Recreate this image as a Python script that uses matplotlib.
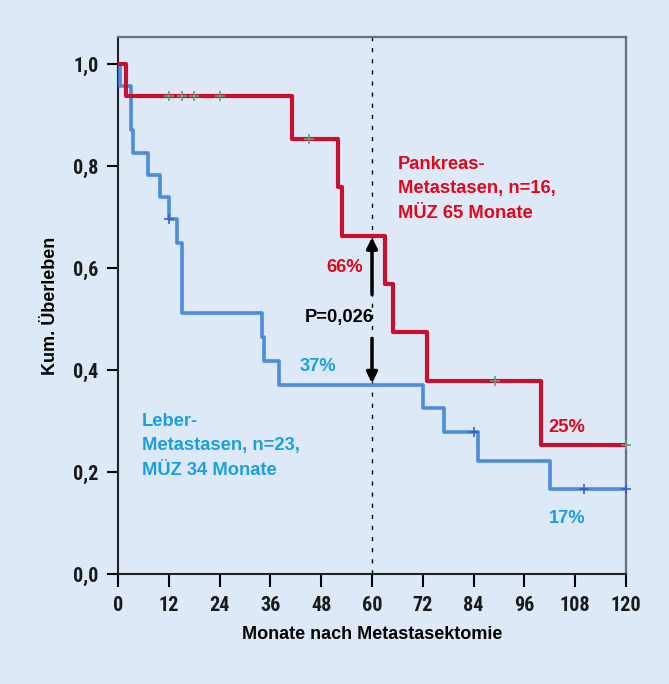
import matplotlib
matplotlib.use("Agg")
from matplotlib import pyplot as plt
from matplotlib import font_manager

# Pankreas-Metastasen (n=16)
pank_t = [0, 2, 41, 52, 53, 63, 65, 73, 100, 120]
pank_s = [1.0, 0.9375, 0.852, 0.758, 0.663, 0.568, 0.474, 0.379, 0.253, 0.253]
pank_cens_t = [12, 15, 18, 24, 45, 89, 120]
pank_cens_s = [0.9375, 0.9375, 0.9375, 0.9375, 0.852, 0.379, 0.253]

# Leber-Metastasen (n=23)
leber_t = [0, 0.5, 3, 3.6, 7.2, 10, 12, 14, 15, 34, 34.6, 38, 72, 77, 85, 102, 120]
leber_s = [1.0, 0.957, 0.870, 0.826, 0.783, 0.739, 0.696, 0.650, 0.511, 0.464,
           0.418, 0.371, 0.325, 0.278, 0.222, 0.167, 0.167]
leber_cens_t = [12, 84, 110, 120]
leber_cens_s = [0.696, 0.278, 0.167, 0.167]

x_ticks = [0, 12, 24, 36, 48, 60, 72, 84, 96, 108, 120]
y_ticks = [0.0, 0.2, 0.4, 0.6, 0.8, 1.0]
y_labels = ["0,0", "0,2", "0,4", "0,6", "0,8", "1,0"]

BG = "#dde9f7"
RED_LINE = "#c8102e"
BLUE_LINE = "#4a8ddc"
RED_TXT = "#e3061b"
BLUE_TXT = "#1a9fe3"

plt.rcParams['font.family'] = ['Liberation Sans', 'DejaVu Sans']

# schmale Schrift für die Achsenbeschriftung, falls vorhanden
installed = {f.name for f in font_manager.fontManager.ttflist}
narrow = [n for n in ['Liberation Sans Narrow', 'Arial Narrow', 'Roboto Condensed',
                      'DejaVu Sans Condensed', 'Liberation Sans'] if n in installed]
narrow = narrow[:1] + ['DejaVu Sans']

fig = plt.figure(figsize=(6.69, 6.84), dpi=100, facecolor=BG)
ax = fig.add_axes([118 / 669, 1 - 574 / 684, 508 / 669, 537 / 684])
ax.set_facecolor(BG)

ax.step(leber_t, leber_s, where='post', color=BLUE_LINE, lw=2.6, zorder=3)
ax.step(pank_t, pank_s, where='post', color=RED_LINE, lw=3.0, zorder=4)
ax.plot(pank_cens_t, pank_cens_s, ls='none', marker='+', ms=7, mew=1.2,
        color="#6f9a78", zorder=5, clip_on=False)
ax.plot(leber_cens_t, leber_cens_s, ls='none', marker='+', ms=7, mew=1.2,
        color="#3c5fd0", zorder=5, clip_on=False)

ax.axvline(60, color='black', lw=1.0, ls=(0, (3, 5)), zorder=2)

# Doppelpfeil mit Lücke für den p-Wert
ax.annotate("", xy=(60, 0.660), xytext=(60, 0.548),
            arrowprops=dict(arrowstyle='-|>', color='black', lw=2.5,
                            mutation_scale=16, shrinkA=0, shrinkB=0), zorder=6)
ax.annotate("", xy=(60, 0.374), xytext=(60, 0.462),
            arrowprops=dict(arrowstyle='-|>', color='black', lw=2.5,
                            mutation_scale=16, shrinkA=0, shrinkB=0), zorder=6)

FS = 13.2
ax.text(52.2, 0.503, "P=0,026", ha='center', va='center', fontsize=FS,
        fontweight='bold', color='black')
ax.text(53.6, 0.600, "66%", ha='center', va='center', fontsize=FS,
        fontweight='bold', color=RED_TXT)
ax.text(47.2, 0.407, "37%", ha='center', va='center', fontsize=FS,
        fontweight='bold', color=BLUE_TXT)
ax.text(106, 0.288, "25%", ha='center', va='center', fontsize=FS,
        fontweight='bold', color=RED_TXT)
ax.text(106, 0.108, "17%", ha='center', va='center', fontsize=FS,
        fontweight='bold', color=BLUE_TXT)
ax.text(66.1, 0.755, "Pankreas-\nMetastasen, n=16,\nMÜZ 65 Monate", ha='left',
        va='center', fontsize=FS, fontweight='bold', color=RED_TXT,
        linespacing=1.55)
ax.text(5.6, 0.251, "Leber-\nMetastasen, n=23,\nMÜZ 34 Monate", ha='left',
        va='center', fontsize=FS, fontweight='bold', color=BLUE_TXT,
        linespacing=1.55)

ax.set_xlim(0, 120)
ax.set_ylim(0, 537 / 510)
ax.set_xticks(x_ticks)
ax.set_xticklabels([str(t) for t in x_ticks])
ax.set_yticks(y_ticks)
ax.set_yticklabels(y_labels)
for lab in ax.get_xticklabels() + ax.get_yticklabels():
    lab.set_family(narrow)
    lab.set_fontweight('bold')
    lab.set_fontsize(14.5)
    lab.set_color('#1a1a1a')
ax.tick_params(axis='x', direction='out', length=9, width=1.5, pad=7)
ax.tick_params(axis='y', direction='out', length=8, width=1.5, pad=6)

for side in ['left', 'bottom']:
    ax.spines[side].set_color('#222222')
    ax.spines[side].set_linewidth(1.5)
for side in ['top', 'right']:
    ax.spines[side].set_color('#6b7078')
    ax.spines[side].set_linewidth(1.6)

ax.set_xlabel("Monate nach Metastasektomie", fontsize=13, fontweight='bold',
              labelpad=8)
ax.set_ylabel("Kum. Überleben", fontsize=13, fontweight='bold', labelpad=10)

fig.savefig("out.png", dpi=100, facecolor=BG)
